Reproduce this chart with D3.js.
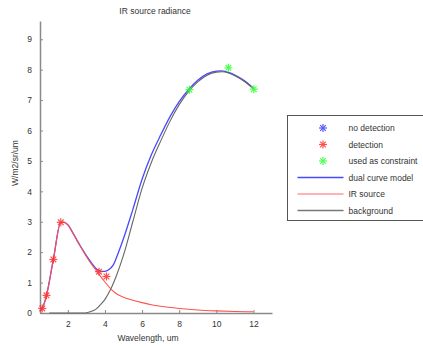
<!DOCTYPE html>
<html>
<head>
<meta charset="utf-8">
<script src="https://cdn.jsdelivr.net/npm/d3@7"></script>
<style>
  body { margin: 0; background: #fff; overflow: hidden; }
  text { font-family: "Liberation Sans", Arial, sans-serif; fill: #333; }
</style>
</head>
<body>
<div id="chart"></div>
<script>
// wavelength (um) / radiance values
var irX = [0.55, 0.62, 0.85, 1.22, 1.62, 1.8, 2.0, 2.3, 2.66, 3.1, 3.56, 4.0, 4.3, 4.6, 5.0, 5.5, 6.0, 6.5, 7.0, 8.0, 9.0, 10.0, 11.0, 12.0];
var irY = [0.08, 0.15, 0.58, 1.76, 2.98, 2.98, 2.9, 2.6, 2.2, 1.76, 1.37, 1.02, 0.8, 0.64, 0.52, 0.42, 0.34, 0.27, 0.22, 0.15, 0.1, 0.07, 0.05, 0.04];

var bgX = [1.0, 2.0, 2.9, 3.2, 3.5, 3.8, 4.0, 4.3, 4.6, 5.0, 5.5, 6.0, 6.5, 7.0, 7.5, 8.0, 8.5, 9.0, 9.5, 10.0, 10.3, 10.7, 11.0, 11.5, 12.0];
var bgY = [0, 0, 0, 0.04, 0.12, 0.3, 0.45, 0.77, 1.2, 1.9, 3.0, 4.1, 4.95, 5.65, 6.3, 6.85, 7.28, 7.6, 7.82, 7.92, 7.93, 7.88, 7.8, 7.62, 7.37];

var dualX = [0.55, 0.62, 0.85, 1.22, 1.62, 1.8, 2.0, 2.3, 2.66, 3.1, 3.56, 3.8, 4.0, 4.2, 4.45, 4.7, 5.0, 5.5, 6.0, 6.5, 7.0, 7.5, 8.0, 8.5, 9.0, 9.5, 10.0, 10.3, 10.7, 11.0, 11.5, 12.0];
var dualY = [0.08, 0.15, 0.58, 1.76, 2.98, 2.98, 2.9, 2.6, 2.22, 1.8, 1.44, 1.37, 1.37, 1.42, 1.58, 1.95, 2.45, 3.4, 4.4, 5.2, 5.85, 6.45, 6.95, 7.34, 7.65, 7.86, 7.95, 7.96, 7.9, 7.82, 7.64, 7.39];

var detX = [0.62, 0.85, 1.22, 1.62, 3.68, 4.08];
var detY = [0.15, 0.58, 1.76, 2.98, 1.36, 1.2];
var conX = [8.55, 10.65, 12.02];
var conY = [7.34, 8.06, 7.36];

var xTicks = [2, 4, 6, 8, 10, 12];
var yTicks = [0, 1, 2, 3, 4, 5, 6, 7, 8, 9];

var legendItems = [
  { label: "no detection", type: "marker", color: "#3a3aff" },
  { label: "detection", type: "marker", color: "#ff3030" },
  { label: "used as constraint", type: "marker", color: "#30ff30" },
  { label: "dual curve model", type: "line", color: "#4848ff" },
  { label: "IR source", type: "line", color: "#ff9a9a" },
  { label: "background", type: "line", color: "#777" }
];

var svgWidth = 423, svgHeight = 348;
var margin = { top: 21, right: 151, bottom: 35, left: 40 };
var width = svgWidth - margin.left - margin.right;
var height = svgHeight - margin.top - margin.bottom;

var svg = d3.select("#chart").append("svg")
  .attr("width", svgWidth)
  .attr("height", svgHeight);

var chartGroup = svg.append("g")
  .attr("transform", `translate(${margin.left}, ${margin.top})`);

var xScale = d3.scaleLinear().domain([0.5, 13]).range([0, width]);
var yScale = d3.scaleLinear().domain([0, 9.6]).range([height, 0]);

// axes, ticks drawn inward like matlab
var bottomAxis = d3.axisBottom(xScale).tickValues(xTicks).tickSizeInner(-3).tickSizeOuter(0).tickPadding(8);
var leftAxis = d3.axisLeft(yScale).tickValues(yTicks).tickSizeInner(-3).tickSizeOuter(0).tickPadding(8);

var xg = chartGroup.append("g")
  .attr("transform", `translate(0, ${height})`)
  .call(bottomAxis);
var yg = chartGroup.append("g").call(leftAxis);

[xg, yg].forEach(function(g) {
  g.select(".domain").attr("stroke", "#8a8a8a").attr("stroke-width", 1.5);
  g.selectAll(".tick line").attr("stroke", "#8a8a8a");
  g.selectAll(".tick text").attr("font-size", "8.5px").attr("fill", "#444")
    .attr("font-family", "Liberation Sans, Arial, sans-serif");
});

function pairs(xs, ys) {
  return xs.map(function(x, i) { return [x, ys[i]]; });
}

var line = d3.line()
  .x(d => xScale(d[0]))
  .y(d => yScale(d[1]))
  .curve(d3.curveMonotoneX);

chartGroup.append("path")
  .datum(pairs(dualX, dualY))
  .attr("d", line)
  .attr("fill", "none")
  .attr("stroke", "#4848ff")
  .attr("stroke-width", 1.3);

chartGroup.append("path")
  .datum(pairs(bgX, bgY))
  .attr("d", line)
  .attr("fill", "none")
  .attr("stroke", "#666")
  .attr("stroke-width", 1.1);

chartGroup.append("path")
  .datum(pairs(irX, irY))
  .attr("d", line)
  .attr("fill", "none")
  .attr("stroke", "#ff5050")
  .attr("stroke-width", 1.1);

// matlab style asterisk marker
function star(g, cx, cy, r, color) {
  var s = g.append("g").attr("transform", `translate(${cx}, ${cy})`)
    .attr("stroke", color).attr("stroke-width", 1.2).attr("opacity", 0.85);
  [0, 45, 90, 135].forEach(function(a) {
    var rad = a * Math.PI / 180;
    s.append("line")
      .attr("x1", -r * Math.cos(rad)).attr("y1", -r * Math.sin(rad))
      .attr("x2", r * Math.cos(rad)).attr("y2", r * Math.sin(rad));
  });
}

var markerGroup = chartGroup.append("g");
detX.forEach(function(x, i) { star(markerGroup, xScale(x), yScale(detY[i]), 4, "#ff3030"); });
conX.forEach(function(x, i) { star(markerGroup, xScale(x), yScale(conY[i]), 4, "#30ff30"); });

// labels
svg.append("text")
  .attr("x", 155).attr("y", 14)
  .attr("text-anchor", "middle")
  .attr("font-size", "8.5px")
  .text("IR source radiance");

svg.append("text")
  .attr("x", 148).attr("y", 341)
  .attr("text-anchor", "middle")
  .attr("font-size", "8.5px")
  .text("Wavelength, um");

svg.append("text")
  .attr("transform", "translate(18, 163) rotate(-90)")
  .attr("text-anchor", "middle")
  .attr("font-size", "8.5px")
  .text("W/m2/sr/um");

// legend
var legend = svg.append("g").attr("transform", "translate(287.5, 115.5)");
legend.append("rect")
  .attr("width", 160).attr("height", 105)
  .attr("fill", "#fff")
  .attr("stroke", "#555")
  .attr("stroke-width", 1);

legendItems.forEach(function(item, i) {
  var y = 12.5 + i * 16.5;
  if (item.type === "marker") {
    star(legend, 35.5, y, 4, item.color);
  } else {
    legend.append("line")
      .attr("x1", 10).attr("x2", 56)
      .attr("y1", y).attr("y2", y)
      .attr("stroke", item.color)
      .attr("stroke-width", 1.5);
  }
  legend.append("text")
    .attr("x", 61).attr("y", y + 3)
    .attr("font-size", "8.5px")
    .text(item.label);
});
</script>
</body>
</html>
